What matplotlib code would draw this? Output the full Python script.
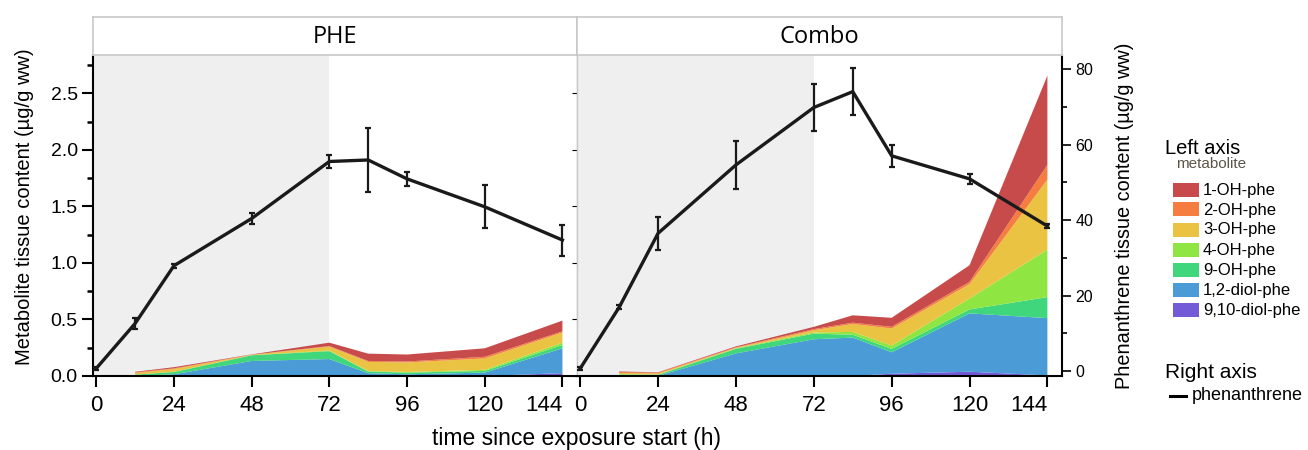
import matplotlib
matplotlib.use("Agg")
import matplotlib.pyplot as plt
from matplotlib.patches import Rectangle
from matplotlib.lines import Line2D
from matplotlib.ticker import MultipleLocator, FormatStrFormatter

plt.rcParams['font.family'] = ['Liberation Sans', 'DejaVu Sans']

# ---------------- data ----------------
panels = ["PHE", "Combo"]
metabolites = ["1-OH-phe", "2-OH-phe", "3-OH-phe", "4-OH-phe", "9-OH-phe", "1,2-diol-phe", "9,10-diol-phe"]
met_colors = ["#C84B4B", "#F47D3F", "#EBC343", "#8FE642", "#40D67C", "#4B9BD7", "#735AD7"]

times_line = [0, 12, 24, 48, 72, 84, 96, 120, 144]
phe_line = [0.7, 12.6, 27.9, 40.4, 55.5, 55.9, 50.9, 43.5, 34.7]
phe_err = [0.3, 1.4, 0.5, 1.5, 1.6, 8.6, 1.8, 5.7, 4.1]
combo_line = [0.7, 16.9, 36.5, 54.6, 69.8, 74.0, 57.0, 50.9, 38.4]
combo_err = [0.3, 0.5, 4.4, 6.3, 6.3, 6.3, 2.9, 1.3, 0.5]

times_area = [12, 24, 48, 72, 84, 96, 120, 144]
# PHE metabolites (µg/g ww)
phe_1oh = [0.005, 0.010, 0.002, 0.030, 0.065, 0.062, 0.075, 0.095]
phe_2oh = [0.005, 0.005, 0.001, 0.005, 0.008, 0.008, 0.015, 0.010]
phe_3oh = [0.015, 0.025, 0.003, 0.035, 0.080, 0.085, 0.100, 0.090]
phe_4oh = [0.000, 0.003, 0.002, 0.005, 0.005, 0.005, 0.010, 0.020]
phe_9oh = [0.012, 0.020, 0.050, 0.070, 0.015, 0.015, 0.015, 0.030]
phe_12diol = [0.000, 0.015, 0.133, 0.150, 0.025, 0.015, 0.030, 0.220]
phe_910diol = [0.000, 0.000, 0.000, 0.000, 0.000, 0.000, 0.000, 0.025]
# Combo metabolites (µg/g ww)
combo_1oh = [0.005, 0.003, 0.007, 0.020, 0.065, 0.080, 0.147, 0.790]
combo_2oh = [0.008, 0.007, 0.005, 0.010, 0.012, 0.015, 0.020, 0.130]
combo_3oh = [0.010, 0.009, 0.005, 0.020, 0.070, 0.150, 0.127, 0.620]
combo_4oh = [0.004, 0.004, 0.005, 0.010, 0.025, 0.030, 0.097, 0.420]
combo_9oh = [0.010, 0.008, 0.040, 0.050, 0.025, 0.030, 0.035, 0.186]
combo_12diol = [0.003, 0.002, 0.200, 0.325, 0.340, 0.190, 0.516, 0.507]
combo_910diol = [0.000, 0.000, 0.000, 0.000, 0.000, 0.020, 0.038, 0.005]

x_ticks = [0, 24, 48, 72, 96, 120, 144]
x_tick_labels = ["0", "24", "48", "72", "96", "120", "144"]

phe_stack = [phe_910diol, phe_12diol, phe_9oh, phe_4oh, phe_3oh, phe_2oh, phe_1oh]
combo_stack = [combo_910diol, combo_12diol, combo_9oh, combo_4oh, combo_3oh, combo_2oh, combo_1oh]
stack_colors = met_colors[::-1]

# ---------------- layout ----------------
W, H = 1308, 450
fig = plt.figure(figsize=(W / 100, H / 100), dpi=100)

def fx(px):
    return px / W

def fy(py):
    return 1 - py / H

plot_top, plot_bot = 55, 376
panel_x = [(93, 577), (577, 1062)]
border = "#C8C8C8"

line_data = [(phe_line, phe_err), (combo_line, combo_err)]
stacks = [phe_stack, combo_stack]

for i, (x0, x1) in enumerate(panel_x):
    ax = fig.add_axes([fx(x0), fy(plot_bot), fx(x1 - x0), (plot_bot - plot_top) / H])
    ax.set_xlim(-1, 148.5)
    ax.set_ylim(0, 2.84)
    ax.axvspan(-1, 72, color="#EFEFEF", zorder=0, lw=0)
    ax.stackplot(times_area, *stacks[i], colors=stack_colors, linewidth=0, zorder=1)
    ax.set_xticks(x_ticks)
    ax.set_xticklabels(x_tick_labels)
    for lab in ax.get_xticklabels():
        if lab.get_text() == "144":
            lab.set_horizontalalignment("right")
    ax.tick_params(axis="x", direction="out", length=8, width=1.5, labelsize=16, pad=6, colors="black")
    ax.spines["top"].set_visible(False)
    ax.spines["bottom"].set_linewidth(1.5)
    if i == 0:
        ax.spines["left"].set_linewidth(1.5)
        ax.yaxis.set_major_locator(MultipleLocator(0.5))
        ax.yaxis.set_minor_locator(MultipleLocator(0.25))
        ax.yaxis.set_major_formatter(FormatStrFormatter("%.1f"))
        ax.tick_params(axis="y", which="major", direction="out", length=8, width=1.5, labelsize=14, pad=3)
        ax.tick_params(axis="y", which="minor", direction="out", length=4, width=1.8)
    else:
        ax.spines["left"].set_color(border)
        ax.spines["left"].set_linewidth(1.0)
        ax.tick_params(axis="y", which="both", left=False, labelleft=False)
    ax.spines["right"].set_visible(False)

    tw = ax.twinx()
    tw.set_ylim(-1.3, 83.7)
    vals, errs = line_data[i]
    tw.errorbar(times_line, vals, yerr=errs, color="#1A1A1A", lw=2.4, elinewidth=1.6,
                capsize=2.5, capthick=1.6, zorder=5)
    tw.spines["top"].set_visible(False)
    tw.spines["left"].set_visible(False)
    tw.spines["bottom"].set_visible(False)
    if i == 1:
        tw.spines["right"].set_linewidth(1.5)
        tw.yaxis.set_major_locator(MultipleLocator(20))
        tw.yaxis.set_minor_locator(MultipleLocator(10))
        tw.tick_params(axis="y", which="major", direction="out", length=6.5, width=1.2, labelsize=11.5, pad=3)
        tw.tick_params(axis="y", which="minor", direction="out", length=3.5, width=1.2)
    else:
        tw.spines["right"].set_color(border)
        tw.spines["right"].set_linewidth(1.0)
        tw.tick_params(axis="y", which="both", right=False, labelright=False)

    # facet strip
    st = fig.add_axes([fx(x0), fy(plot_top), fx(x1 - x0), (plot_top - 17) / H])
    st.set_xticks([])
    st.set_yticks([])
    for s in st.spines.values():
        s.set_color(border)
        s.set_linewidth(1.2)
    st.text(0.5, 0.47, panels[i], ha="center", va="center", fontsize=17,
            family=["Open Sans", "DejaVu Sans"], transform=st.transAxes)

# axis labels
fig.text(fx(25), fy(207), "Metabolite tissue content (µg/g ww)", rotation=90,
         ha="center", va="center", fontsize=14.5)
fig.text(fx(1124), fy(216), "Phenanthrene tissue content (µg/g ww)", rotation=90,
         ha="center", va="center", fontsize=14.3)
fig.text(fx(577), fy(438), "time since exposure start (h)", ha="center", va="center", fontsize=16.5)

# legend
fig.text(fx(1165), fy(148), "Left axis", ha="left", va="center", fontsize=14.5)
fig.text(fx(1176), fy(164), "metabolite", ha="left", va="center", fontsize=11, color="#5E554A")
for k, (name, col) in enumerate(zip(metabolites, met_colors)):
    yc = 189.5 + 20 * k
    fig.add_artist(Rectangle((fx(1173), fy(yc + 7)), fx(26), 14 / H, transform=fig.transFigure,
                             facecolor=col, edgecolor="none"))
    fig.text(fx(1203), fy(yc + 0.5), name, ha="left", va="center", fontsize=12)
fig.text(fx(1165), fy(372), "Right axis", ha="left", va="center", fontsize=15)
fig.add_artist(Line2D([fx(1170), fx(1186)], [fy(396), fy(396)], transform=fig.transFigure,
                      color="black", lw=2.2))
fig.text(fx(1192), fy(396), "phenanthrene", ha="left", va="center", fontsize=13)

fig.savefig("out.png", dpi=100)
